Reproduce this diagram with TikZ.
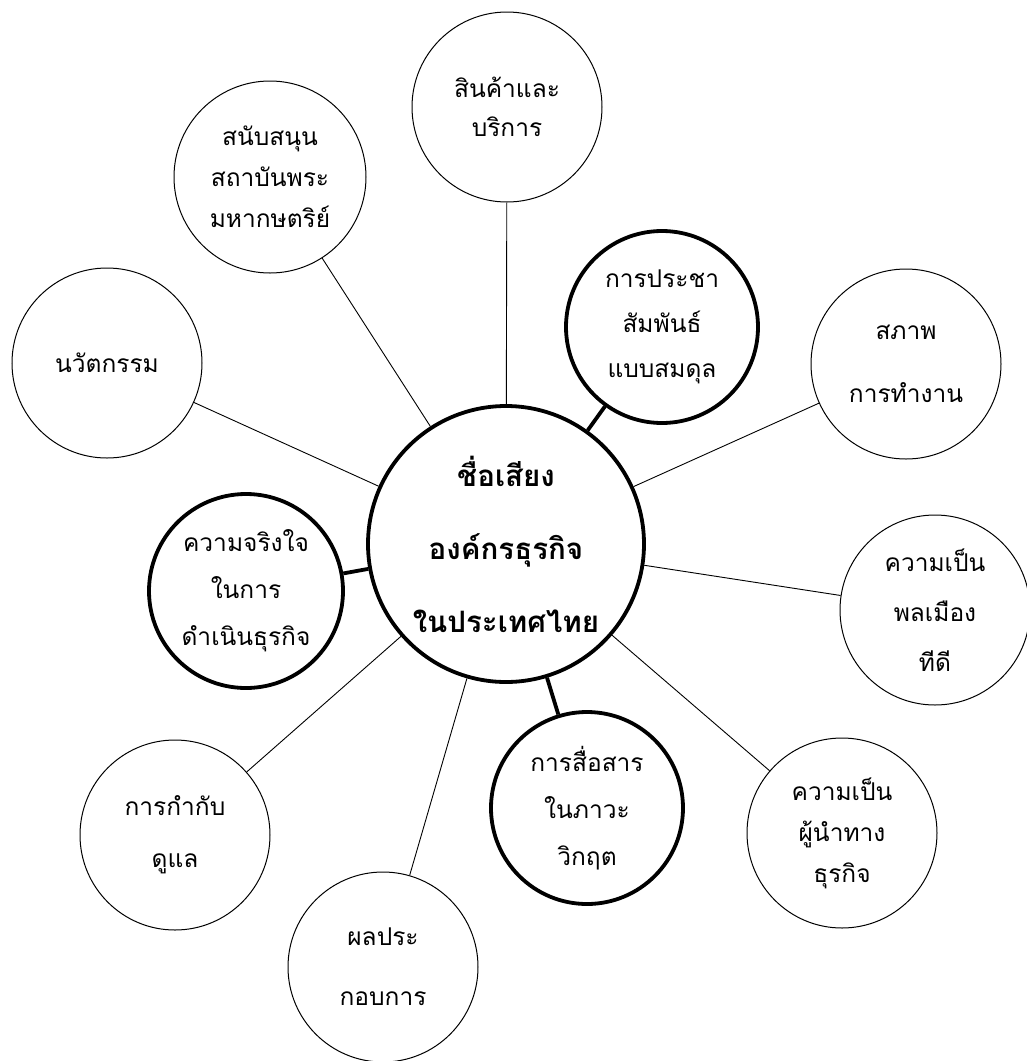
\documentclass[tikz,border=0pt]{standalone}
\usepackage{fontspec}
\newfontfamily\thaifont[Script=Thai]{Loma}
\begin{document}
\begin{tikzpicture}[x=1pt,y=-1pt,
  bubble/.style={circle, draw=black, fill=white, line width=1pt, minimum size=190pt,
    inner sep=0pt, align=center, text=black,
    font=\thaifont\fontsize{24.5}{#1}\selectfont},
  boldbubble/.style={bubble=#1, line width=3.8pt},
  thinlink/.style={draw=black, line width=0.9pt},
  thicklink/.style={draw=black, line width=3.8pt}]
\useasboundingbox (0,0) rectangle (1027,1061);

% hub
\node[boldbubble=73, minimum size=276pt,
      font=\thaifont\bfseries\fontsize{29.5}{73}\selectfont] (hub) at (506,544)
  {ชื่อเสียง\\องค์กรธุรกิจ\\ในประเทศไทย};

% surrounding topics
\node[bubble=39] (goods)    at (507,107) {สินค้าและ\\บริการ};
\node[bubble=41, minimum size=192pt] (monarchy) at (270,177) {สนับสนุน\\สถาบันพระ\\มหากษตริย์};
\node[bubble=40] (innov)    at (107,363) {นวัตกรรม};
\node[boldbubble=45, minimum size=192pt] (pr) at (662,327) {การประชา\\สัมพันธ์\\แบบสมดุล};
\node[bubble=63] (workplace) at (906,364) {สภาพ\\การทำงาน};
\node[bubble=50] (citizen)  at (935,610) {ความเป็น\\พลเมือง\\ทีดี};
\node[bubble=41] (leader)   at (842,833) {ความเป็น\\ผู้นำทาง\\ธุรกิจ};
\node[boldbubble=47, minimum size=192pt] (crisis) at (587,808) {การสื่อสาร\\ในภาวะ\\วิกฤต};
\node[bubble=60] (perform)  at (383,967) {ผลประ\\กอบการ};
\node[bubble=52] (govern)   at (175,835) {การกำกับ\\ดูแล};
\node[boldbubble=47, minimum size=194pt] (sincere) at (246,591) {ความจริงใจ\\ในการ\\ดำเนินธุรกิจ};

% connectors
\draw[thinlink] (hub) -- (goods);
\draw[thinlink] (hub) -- (monarchy);
\draw[thinlink] (hub) -- (innov);
\draw[thinlink] (hub) -- (workplace);
\draw[thinlink] (hub) -- (citizen);
\draw[thinlink] (hub) -- (leader);
\draw[thinlink] (hub) -- (perform);
\draw[thinlink] (hub) -- (govern);
\draw[thicklink] (hub) -- (pr);
\draw[thicklink] (hub) -- (crisis);
\draw[thicklink] (hub) -- (sincere);
\end{tikzpicture}
\end{document}
